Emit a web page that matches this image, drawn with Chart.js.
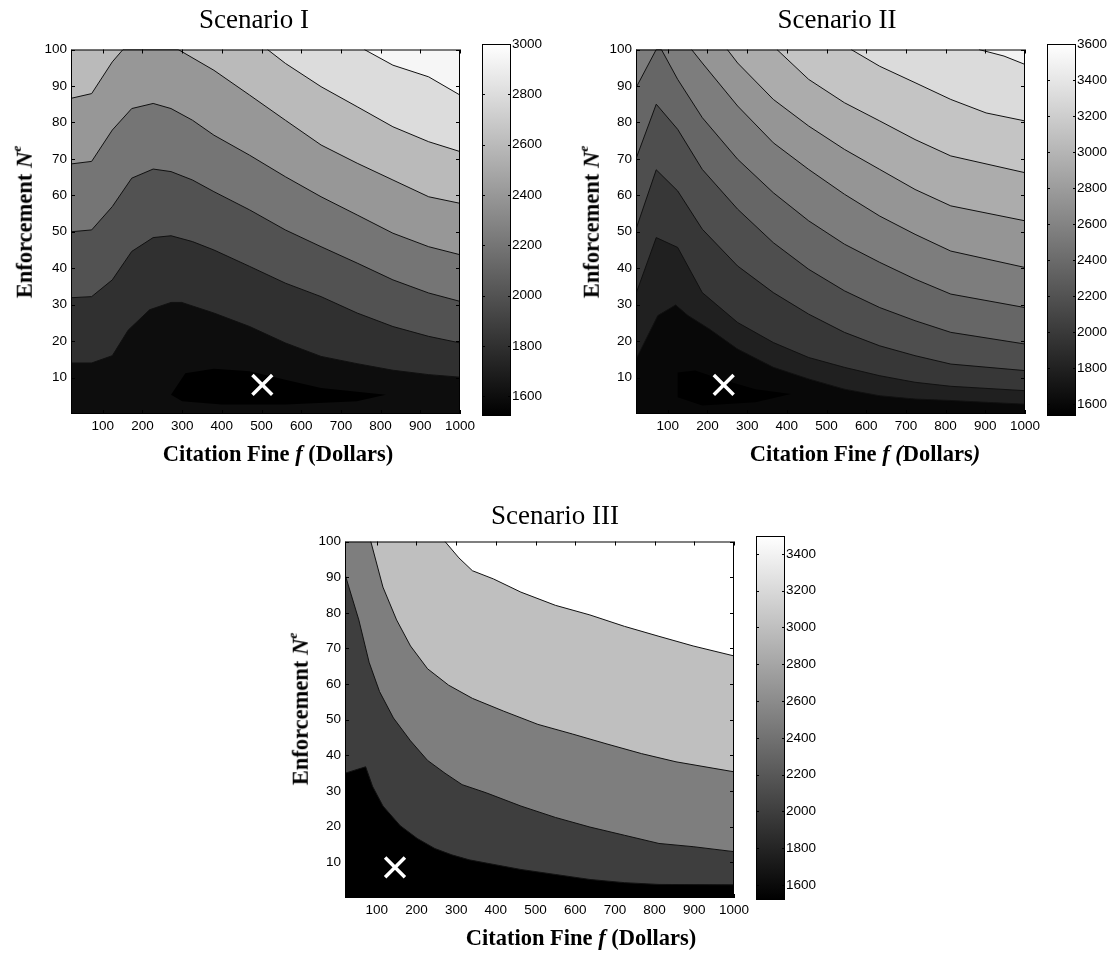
<!DOCTYPE html>
<html>
<head>
<meta charset="utf-8">
<script src="https://cdn.jsdelivr.net/npm/chart.js@4.4.1/dist/chart.umd.min.js"></script>
<style>
  html, body { margin: 0; padding: 0; background: #fff; }
  #page { position: relative; width: 1116px; height: 956px; overflow: hidden; }
  canvas { position: absolute; }
  .lbl { position: absolute; white-space: nowrap; color: #000;
         font-family: "Liberation Serif", "Times New Roman", serif;
         transform: translate(-50%, -50%); }
  .ttl { font-size: 27px; }
  .ax { font-size: 22.5px; font-weight: bold; }
  .rot { transform: translate(-50%, -50%) rotate(-90deg); }
  sup { font-size: 0.6em; position: relative; top: -0.15em; }
</style>
</head>
<body>
<div id="page">
  <canvas id="c1"></canvas>
  <canvas id="cb1"></canvas>
  <canvas id="c2"></canvas>
  <canvas id="cb2"></canvas>
  <canvas id="c3"></canvas>
  <canvas id="cb3"></canvas>

  <div class="lbl ttl" style="left:254px; top:19px;">Scenario I</div>
  <div class="lbl ax rot" style="left:24px; top:222px;">Enforcement <i>N<sup>e</sup></i></div>
  <div class="lbl ax" style="left:278px; top:454px;">Citation Fine <i>f</i> (Dollars)</div>

  <div class="lbl ttl" style="left:837px; top:19px;">Scenario II</div>
  <div class="lbl ax rot" style="left:591px; top:222px;">Enforcement <i>N<sup>e</sup></i></div>
  <div class="lbl ax" style="left:865px; top:454px;">Citation Fine <i>f (</i>Dollars<i>)</i></div>

  <div class="lbl ttl" style="left:555px; top:515px;">Scenario III</div>
  <div class="lbl ax rot" style="left:300px; top:709px;">Enforcement <i>N<sup>e</sup></i></div>
  <div class="lbl ax" style="left:581px; top:938px;">Citation Fine <i>f</i> (Dollars)</div>
</div>

<script>
// limites des axes (les trois panneaux)
const xMin = 20, xMax = 1000, yMin = 0, yMax = 100;
const xTicks = [100, 200, 300, 400, 500, 600, 700, 800, 900, 1000];
const yTicks = [10, 20, 30, 40, 50, 60, 70, 80, 90, 100];

// ---- Scenario I : lignes de niveau [amende, enforcement]
const s1Range = [1522, 3000];
const s1CbTicks = [1600, 1800, 2000, 2200, 2400, 2600, 2800, 3000];
const s1Blob = [[272, 5.3], [308, 11.2], [380, 12.4], [470, 11.7], [560, 9.4], [650, 7.1], [813, 5.3], [740, 3.5], [560, 2.6], [400, 2.6], [300, 3.5]];
const s1A = [[20, 14], [72, 14], [124, 16], [164, 23], [218, 28.6], [272, 30.6], [299, 30.6], [380, 27.7], [470, 24], [560, 19.5], [650, 15.8], [741, 13.8], [831, 12], [921, 10.8], [1000, 10.1]];
const s1B = [[20, 31.9], [72, 32.2], [124, 36.8], [173, 44.6], [227, 48.4], [272, 48.9], [326, 47.3], [380, 45], [470, 40.5], [560, 35.9], [650, 32.2], [741, 27.7], [831, 24], [921, 21.3], [1000, 19.5]];
const s1C = [[20, 50], [72, 50.5], [124, 56.9], [173, 64.7], [227, 67.2], [272, 66.5], [326, 64.2], [380, 61], [470, 56], [560, 50.5], [650, 45.9], [741, 41.4], [831, 36.8], [921, 33.2], [1000, 30.9]];
const s1D = [[20, 68.6], [72, 69.3], [124, 77.9], [173, 83.8], [227, 85.2], [272, 83.8], [326, 80.6], [380, 76.5], [470, 71], [560, 65.1], [650, 59.6], [741, 54.6], [831, 49.6], [921, 45.9], [1000, 43.7]];
const s1E = [[20, 86.6], [72, 87.9], [124, 96.6], [151, 100], [290, 100], [380, 94.3], [470, 87.5], [560, 80.6], [650, 73.8], [741, 68.8], [831, 64.2], [921, 59.6], [1000, 57.8]];
const s1F = [[515, 100], [560, 96.2], [650, 89.8], [741, 84.3], [831, 78.8], [921, 74.7], [1000, 72]];
const s1G = [[759, 100], [831, 95.7], [921, 92.5], [1000, 87.5]];
// valeur de la zone sous chaque ligne : blob, A..G, puis le haut
const s1Levels = [1522, 1600, 1800, 2000, 2200, 2400, 2600, 2800, 2950];
const s1Marker = [502, 8];

// ---- Scenario II
const s2Range = [1534, 3600];
const s2CbTicks = [1600, 1800, 2000, 2200, 2400, 2600, 2800, 3000, 3200, 3400, 3600];
const s2Blob = [[125, 11.4], [169, 11.9], [232, 9.6], [321, 6.8], [410, 5.5], [321, 3.2], [187, 2.3], [125, 4.6]];
const s2L1 = [[20, 15], [75, 27], [120, 29.9], [151, 27], [205, 23.3], [276, 17.8], [366, 12.8], [455, 9.6], [545, 6.8], [634, 5], [723, 4.1], [813, 3.7], [902, 3.2], [1000, 2.7]];
const s2L2 = [[20, 33], [71, 48.4], [125, 45.7], [187, 33.3], [276, 25.1], [366, 19.6], [455, 15.5], [545, 12.8], [634, 10.5], [723, 8.7], [813, 7.6], [1000, 6.4]];
const s2L3 = [[20, 50.7], [71, 67], [125, 61.2], [187, 50.7], [276, 40.6], [366, 33.3], [455, 27.4], [545, 22.4], [634, 18.7], [723, 16], [813, 13.7], [1000, 11.9]];
const s2L4 = [[20, 70], [71, 85], [125, 78.1], [187, 67.1], [276, 56.2], [366, 47], [455, 39.7], [545, 33.8], [634, 29.2], [723, 25.6], [813, 22.4], [1000, 19.2]];
const s2L5 = [[20, 89.5], [71, 100]];
const s2L6 = [[84, 100], [125, 91.8], [187, 81.3], [276, 69.9], [366, 60.7], [455, 53], [545, 46.6], [634, 41.6], [723, 37], [813, 32.9], [1000, 29.2]];
const s2L7 = [[160, 100], [187, 96.3], [276, 84.5], [366, 74.4], [455, 67.1], [545, 60.3], [634, 54.3], [723, 49.3], [813, 44.7], [1000, 40.2]];
const s2L8 = [[250, 100], [276, 96.3], [366, 86.3], [455, 79], [545, 72.6], [634, 67.1], [723, 61.6], [813, 57.1], [1000, 53]];
const s2L9 = [[375, 100], [455, 91.8], [545, 85.4], [634, 80.4], [723, 75.3], [813, 70.8], [1000, 66.2]];
const s2L10 = [[562, 100], [634, 95.4], [723, 90.9], [813, 86.3], [902, 82.6], [1000, 80.4]];
const s2L11 = [[884, 100], [947, 98.2], [1000, 95.9]];
const s2Levels = [1534, 1600, 1790, 1980, 2170, 2360, 2550, 2740, 2930, 3120, 3310, 3500];
const s2Marker = [241, 8];

// ---- Scenario III
const s3Range = [1519, 3497];
const s3CbTicks = [1600, 1800, 2000, 2200, 2400, 2600, 2800, 3000, 3200, 3400];
const s3A = [[20, 35], [72, 36.8], [89.5, 31.3], [115.6, 25.8], [159, 20.3], [202, 16.7], [246, 13.9], [289, 12.1], [333, 10.7], [376, 9.8], [463, 8], [550, 6.6], [637, 5.2], [724, 4.3], [811, 3.8], [1000, 3.7]];
const s3B = [[20, 90.8], [54.8, 78], [80.8, 66.1], [107, 57.9], [142, 50.5], [185, 44.1], [228, 38.6], [272, 35], [315, 31.8], [376, 29.5], [463, 25.8], [550, 22.6], [637, 19.9], [724, 17.6], [811, 15.3], [897, 14.4], [1000, 13]];
const s3C = [[85, 100], [115.6, 87.2], [150, 78], [185, 70.7], [228, 64.3], [281, 59.7], [341, 56], [420, 52.4], [506, 48.7], [593, 46], [680, 43.2], [767, 40.5], [854, 38.2], [1000, 35.4]];
const s3D = [[272, 100], [307, 95.4], [341, 91.8], [394, 89.5], [463, 85.8], [550, 82.1], [637, 79.4], [724, 76.2], [811, 73.4], [897, 70.7], [1000, 67.9]];
const s3Levels = [1519, 2000, 2500, 3000, 3497];
const s3Marker = [146, 8.6];

const tickFont = { family: 'Liberation Sans, Arial, sans-serif', size: 13.5 };

// gris de la colormap pour une valeur
function gray(v, range) {
    const t = Math.max(0, Math.min(1, (v - range[0]) / (range[1] - range[0])));
    const c = Math.round(t * 255);
    return `rgb(${c},${c},${c})`;
}

// ferme une ligne par le bas (et le coin haut gauche si besoin)
function polygon(pts, close) {
    let out = pts.slice();
    if (close === 'below') out = out.concat([[xMax, yMin], [xMin, yMin]]);
    if (close === 'belowLeft') out = out.concat([[xMax, yMin], [xMin, yMin], [xMin, yMax]]);
    return out.map(p => ({ x: p[0], y: p[1] }));
}

// cadre + petites graduations vers l'intérieur
const frameTicks = {
    id: 'frameTicks',
    afterDraw(chart, args, opts) {
        const { ctx, chartArea: a, scales } = chart;
        const len = opts.len || 4;
        ctx.save();
        ctx.strokeStyle = '#000';
        ctx.lineWidth = 1;
        ctx.beginPath();
        (opts.xTicks || []).forEach(v => {
            const p = Math.round(scales.x.getPixelForValue(v)) + 0.5;
            ctx.moveTo(p, a.bottom); ctx.lineTo(p, a.bottom - len);
            ctx.moveTo(p, a.top); ctx.lineTo(p, a.top + len);
        });
        (opts.yTicks || []).forEach(v => {
            const p = Math.round(scales.y.getPixelForValue(v)) + 0.5;
            ctx.moveTo(a.left, p); ctx.lineTo(a.left + len, p);
            ctx.moveTo(a.right, p); ctx.lineTo(a.right - len, p);
        });
        ctx.stroke();
        ctx.strokeRect(a.left + 0.5, a.top + 0.5, a.right - a.left - 1, a.bottom - a.top - 1);
        ctx.restore();
    }
};

function contourChart(id, box, range, layers, topLevel, marker) {
    const cv = document.getElementById(id);
    const cx = box.L - 50, cy = box.T - 12;
    const cw = box.R - cx + 20, ch = box.B - cy + 30;
    cv.width = cw; cv.height = ch;
    cv.style.left = cx + 'px'; cv.style.top = cy + 'px';

    const datasets = [{
        data: [{ x: marker[0], y: marker[1] }],
        showLine: false,
        pointStyle: 'crossRot',
        pointRadius: 14,
        pointBorderWidth: 3.5,
        pointBorderColor: '#fff',
        borderColor: '#fff',
        borderWidth: 3.5,
        clip: 0
    }];
    layers.forEach(l => {
        datasets.push({
            data: polygon(l.pts, l.close),
            showLine: true,
            fill: 'shape',
            backgroundColor: gray(l.level, range),
            borderColor: l.stroke ? '#111' : 'rgba(0,0,0,0)',
            borderWidth: 1,
            pointRadius: 0,
            tension: 0,
            clip: 0
        });
    });
    // fond = niveau le plus haut
    datasets.push({
        data: polygon([[xMin, yMin], [xMax, yMin], [xMax, yMax], [xMin, yMax]], 'none'),
        showLine: true,
        fill: 'shape',
        backgroundColor: gray(topLevel, range),
        borderColor: 'rgba(0,0,0,0)',
        pointRadius: 0,
        clip: 0
    });

    return new Chart(cv, {
        type: 'scatter',
        data: { datasets },
        options: {
            responsive: false,
            animation: false,
            events: [],
            layout: { padding: { left: 5, top: 12, right: 20, bottom: 6 } },
            plugins: {
                legend: { display: false },
                tooltip: { enabled: false },
                frameTicks: { xTicks: xTicks, yTicks: yTicks, len: 4 }
            },
            scales: {
                x: {
                    type: 'linear', min: xMin, max: xMax,
                    afterBuildTicks: s => { s.ticks = xTicks.map(v => ({ value: v })); },
                    afterFit: s => { s.height = 24; },
                    grid: { display: false, drawTicks: false },
                    border: { display: false },
                    ticks: { padding: 4, autoSkip: false, maxRotation: 0, color: '#000', font: tickFont, callback: v => String(v) }
                },
                y: {
                    type: 'linear', min: yMin, max: yMax,
                    afterBuildTicks: s => { s.ticks = yTicks.map(v => ({ value: v })); },
                    afterFit: s => { s.width = 45; },
                    grid: { display: false, drawTicks: false },
                    border: { display: false },
                    ticks: { padding: 4, autoSkip: false, color: '#000', font: tickFont, callback: v => String(v) }
                }
            }
        },
        plugins: [frameTicks]
    });
}

function colorBar(id, box, range, ticks) {
    const cv = document.getElementById(id);
    const cx = box.L - 10, cy = box.T - 12;
    const cw = box.R - cx + 42, ch = box.B - cy + 12;
    cv.width = cw; cv.height = ch;
    cv.style.left = cx + 'px'; cv.style.top = cy + 'px';

    return new Chart(cv, {
        type: 'bar',
        data: {
            labels: [''],
            datasets: [{
                data: [[range[0], range[1]]],
                backgroundColor: c => {
                    const a = c.chart.chartArea;
                    if (!a) return '#777';
                    const g = c.chart.ctx.createLinearGradient(0, a.bottom, 0, a.top);
                    g.addColorStop(0, '#000');
                    g.addColorStop(1, '#fff');
                    return g;
                },
                borderWidth: 0,
                barPercentage: 1,
                categoryPercentage: 1
            }]
        },
        options: {
            responsive: false,
            animation: false,
            events: [],
            layout: { padding: { left: 10, top: 12, right: 0, bottom: 12 } },
            plugins: {
                legend: { display: false },
                tooltip: { enabled: false },
                frameTicks: { yTicks: ticks, len: 3 }
            },
            scales: {
                x: { display: false },
                y: {
                    position: 'right', min: range[0], max: range[1],
                    afterBuildTicks: s => { s.ticks = ticks.map(v => ({ value: v })); },
                    afterFit: s => { s.width = 42; },
                    grid: { display: false, drawTicks: false },
                    border: { display: false },
                    ticks: { padding: 1, autoSkip: false, color: '#000', font: tickFont, callback: v => String(v) }
                }
            }
        },
        plugins: [frameTicks]
    });
}

window.onload = function() {
    contourChart('c1', { L: 71, R: 460, T: 44, B: 414 }, s1Range, [
        { pts: s1Blob, close: 'none', level: s1Levels[0], stroke: false },
        { pts: s1A, close: 'below', level: s1Levels[1], stroke: true },
        { pts: s1B, close: 'below', level: s1Levels[2], stroke: true },
        { pts: s1C, close: 'below', level: s1Levels[3], stroke: true },
        { pts: s1D, close: 'below', level: s1Levels[4], stroke: true },
        { pts: s1E, close: 'below', level: s1Levels[5], stroke: true },
        { pts: s1F, close: 'belowLeft', level: s1Levels[6], stroke: true },
        { pts: s1G, close: 'belowLeft', level: s1Levels[7], stroke: true }
    ], s1Levels[8], s1Marker);
    colorBar('cb1', { L: 482, R: 511, T: 44, B: 416 }, s1Range, s1CbTicks);

    contourChart('c2', { L: 636, R: 1025, T: 44, B: 414 }, s2Range, [
        { pts: s2Blob, close: 'none', level: s2Levels[0], stroke: false },
        { pts: s2L1, close: 'below', level: s2Levels[1], stroke: true },
        { pts: s2L2, close: 'below', level: s2Levels[2], stroke: true },
        { pts: s2L3, close: 'below', level: s2Levels[3], stroke: true },
        { pts: s2L4, close: 'below', level: s2Levels[4], stroke: true },
        { pts: s2L5.concat(s2L6), close: 'below', level: s2Levels[5], stroke: true },
        { pts: s2L7, close: 'belowLeft', level: s2Levels[6], stroke: true },
        { pts: s2L8, close: 'belowLeft', level: s2Levels[7], stroke: true },
        { pts: s2L9, close: 'belowLeft', level: s2Levels[8], stroke: true },
        { pts: s2L10, close: 'belowLeft', level: s2Levels[9], stroke: true },
        { pts: s2L11, close: 'belowLeft', level: s2Levels[10], stroke: true }
    ], s2Levels[11], s2Marker);
    colorBar('cb2', { L: 1047, R: 1076, T: 44, B: 416 }, s2Range, s2CbTicks);

    contourChart('c3', { L: 345, R: 734, T: 536, B: 898 }, s3Range, [
        { pts: s3A, close: 'below', level: s3Levels[0], stroke: true },
        { pts: s3B, close: 'below', level: s3Levels[1], stroke: true },
        { pts: s3C, close: 'belowLeft', level: s3Levels[2], stroke: true },
        { pts: s3D, close: 'belowLeft', level: s3Levels[3], stroke: true }
    ], s3Levels[4], s3Marker);
    colorBar('cb3', { L: 756, R: 785, T: 536, B: 900 }, s3Range, s3CbTicks);
};
</script>
</body>
</html>
